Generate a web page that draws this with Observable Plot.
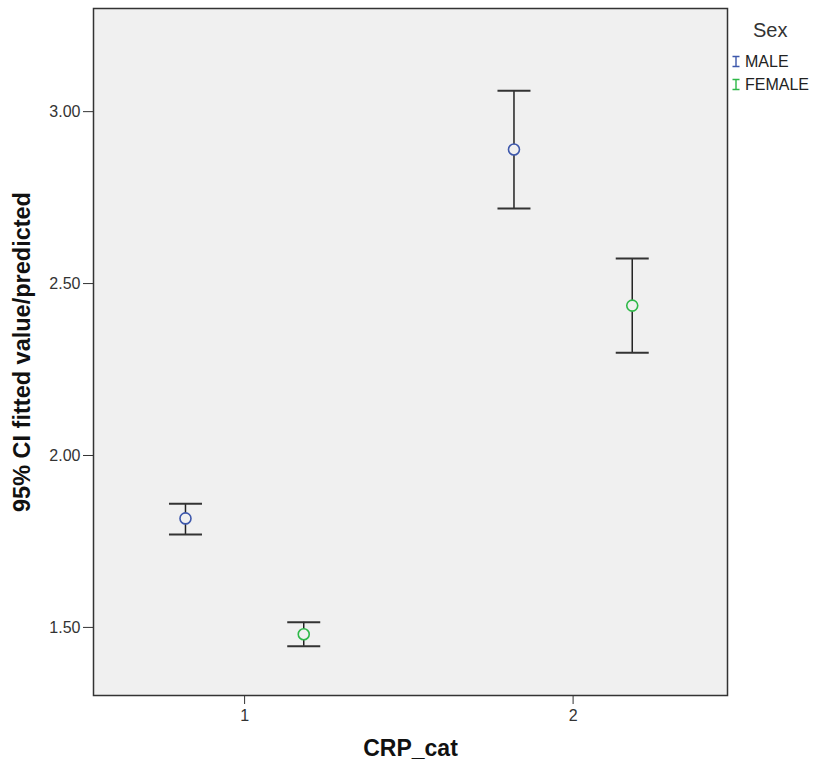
<!DOCTYPE html>
<html>
<head>
<meta charset="utf-8">
<script src="https://cdn.jsdelivr.net/npm/d3@7"></script>
<script src="https://cdn.jsdelivr.net/npm/@observablehq/plot@0.6"></script>
<style>
  body { margin: 0; background: #fff; font-family: "Liberation Sans", Arial, sans-serif; }
  #wrap { position: relative; width: 817px; height: 774px; }
  #legend { position: absolute; left: 731px; top: 19px; font-size: 16px; color: #222; }
  #legend .title { font-size: 20px; color: #333; margin-left: 22px; margin-bottom: 9px; line-height: 22px; }
  #legend .item { display: flex; align-items: center; height: 23px; }
  #legend svg { margin-right: 4px; }
</style>
</head>
<body>
<div id="wrap"><div id="legend"></div></div>
<script>
const categories = [1, 2];
const sexes = ["MALE", "FEMALE"];
const colors = ["#3e58ac", "#2eb848"];
const crp = [1, 1, 2, 2];
const sex = ["MALE", "FEMALE", "MALE", "FEMALE"];
const mean = [1.817, 1.480, 2.890, 2.436];
const lower = [1.770, 1.445, 2.718, 2.299];
const upper = [1.860, 1.515, 3.061, 2.573];
const yTicks = [1.5, 2.0, 2.5, 3.0];
const xLabel = "CRP_cat";
const yLabel = "95% CI fitted value/predicted";
const legendTitle = "Sex";

const dodge = {MALE: -0.18, FEMALE: 0.18};
const data = crp.map((c, i) => ({crp: c, sex: sex[i], pos: c + dodge[sex[i]], mean: mean[i], lo: lower[i], hi: upper[i]}));

const cap = {
  draw(context, size) {
    const r = Math.sqrt(size / Math.PI);
    context.moveTo(-r, 0);
    context.lineTo(r, 0);
  }
};

const chart = Plot.plot({
  width: 817,
  height: 774,
  marginLeft: 93,
  marginRight: 90,
  marginTop: 8,
  marginBottom: 79,
  style: {fontFamily: "Liberation Sans, Arial, sans-serif", background: "transparent"},
  x: {domain: [0.54, 2.47], label: null},
  y: {domain: [1.302, 3.30], label: null},
  color: {domain: sexes, range: colors},
  marks: [
    Plot.frame({fill: "#f0f0f0"}),
    Plot.axisX({ticks: categories, tickFormat: d => String(d), tickSize: 9, tickPadding: 5, fontSize: 16, color: "#333", label: null}),
    Plot.axisY({ticks: yTicks, tickFormat: d3.format(".2f"), tickSize: 10, tickPadding: 3, fontSize: 16, color: "#333", label: null}),
    Plot.ruleX(data, {x: "pos", y1: "lo", y2: "hi", stroke: "#222", strokeWidth: 1.5}),
    Plot.dot(data, {x: "pos", y: "lo", symbol: cap, r: 16.5, stroke: "#333", strokeWidth: 2}),
    Plot.dot(data, {x: "pos", y: "hi", symbol: cap, r: 16.5, stroke: "#333", strokeWidth: 2}),
    Plot.dot(data, {x: "pos", y: "mean", stroke: "sex", r: 5.5, strokeWidth: 1.6, fill: "#f0f0f0"}),
    Plot.frame({stroke: "#333", strokeWidth: 1.5}),
    Plot.text([yLabel], {text: d => d, frameAnchor: "left", textAnchor: "middle", dx: -71, rotate: -90, fontSize: 23.5, fontWeight: "bold", fill: "#111"}),
    Plot.text([xLabel], {text: d => d, frameAnchor: "bottom", textAnchor: "middle", dy: 60, fontSize: 23, fontWeight: "bold", fill: "#111"})
  ]
});
document.getElementById("wrap").prepend(chart);

const legend = document.getElementById("legend");
const t = document.createElement("div");
t.className = "title";
t.textContent = legendTitle;
legend.appendChild(t);
sexes.forEach((s, i) => {
  const item = document.createElement("div");
  item.className = "item";
  item.innerHTML = `<svg width="10" height="13"><path d="M1.5,1.5H8.5M5,1.5V11.5M1.5,11.5H8.5" stroke="${colors[i]}" stroke-width="1.4" fill="none"/></svg><span>${s}</span>`;
  legend.appendChild(item);
});
</script>
</body>
</html>
